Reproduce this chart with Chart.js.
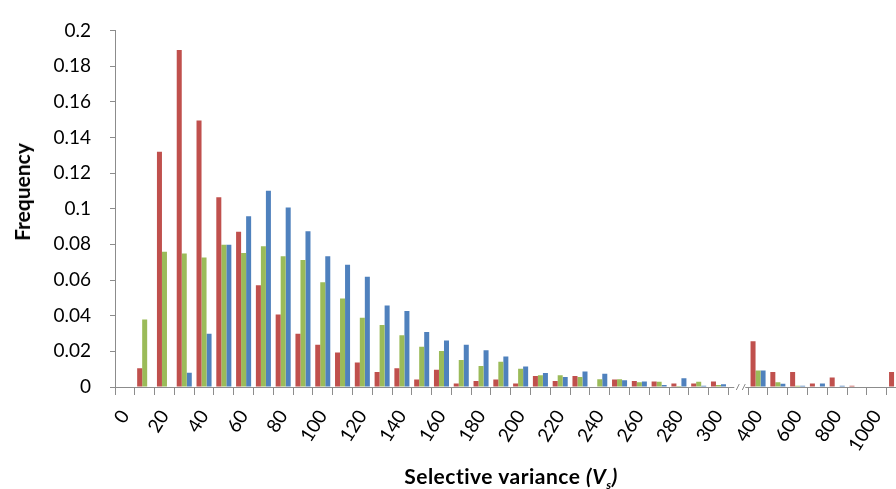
<!DOCTYPE html>
<html>
<head>
<meta charset="utf-8">
<script src="https://cdn.jsdelivr.net/npm/chart.js@4/dist/chart.umd.min.js"></script>
<style>
  html, body { margin: 0; padding: 0; background: #fff; overflow: hidden; }
  #wrap { position: relative; width: 927px; height: 489px; }
  #xtitle { position: absolute; left: 115px; width: 792px; top: 464px; text-align: center;
            font: bold 21px Lato, "Open Sans", sans-serif; letter-spacing: 0.5px; color: #000; line-height: 24px; white-space: nowrap; }
  #xtitle sub { font-size: 12px; vertical-align: -5px; line-height: 0; }
  #ytitle { position: absolute; left: 22px; top: 192px; width: 0; height: 0; }
  #ytitle span { position: absolute; left: 0; top: 0; transform: translate(-50%, -50%) rotate(-90deg);
            font: bold 21px Lato, "Open Sans", sans-serif; color: #000; white-space: nowrap; line-height: 24px; }
</style>
</head>
<body>
<div id="wrap">
  <canvas id="c" width="927" height="489"></canvas>
  <div id="ytitle"><span>Frequency</span></div>
  <div id="xtitle">Selective variance <i>(V<sub>s</sub>)</i></div>
</div>
<script>
// Category bins (selective variance); index 31 is the axis break
const categories = ['0','10','20','30','40','50','60','70','80','90','100','110','120','130','140','150','160','170','180','190','200','210','220','230','240','250','260','270','280','290','300',' ','400','500','600','700','800','900','1000','>1000'];

const redSeries = [0,0.0105,0.132,0.189,0.1495,0.1064,0.0871,0.057,0.0406,0.0299,0.0237,0.0193,0.0138,0.0084,0.0105,0.0042,0.0097,0.002,0.0033,0.0042,0.002,0.0062,0.0033,0.0062,0,0.0042,0.0033,0.0031,0.002,0.002,0.0031,null,0.0257,0.0084,0.0084,0.002,0.0053,0.0007,0,0.0084];
const greenSeries = [0,0.0379,0.0758,0.0749,0.0727,0.0798,0.0752,0.0789,0.0734,0.0712,0.0588,0.0497,0.0388,0.0348,0.029,0.0226,0.0202,0.0151,0.0118,0.0142,0.0102,0.0066,0.0066,0.0056,0.0044,0.0044,0.0027,0.0029,0.0005,0.0029,0.0011,null,0.0093,0.0026,0.0007,0,0,0,0,0];
const blueSeries = [0,0,0,0.008,0.0299,0.0798,0.0958,0.110,0.1007,0.0874,0.0734,0.0685,0.0619,0.0457,0.0426,0.0308,0.0261,0.0237,0.0206,0.0171,0.0115,0.0078,0.0056,0.0087,0.0075,0.0038,0.0031,0.0011,0.0049,0.0007,0.0016,null,0.0093,0.0018,0.0007,0.002,0.0007,0,0,0];

const yTicks = [0,0.02,0.04,0.06,0.08,0.1,0.12,0.14,0.16,0.18,0.2];
const breakIndex = 31;

const axisColor = '#8c8c8c';
const fontFamily = 'Lato, "Open Sans", sans-serif';

const breakPlugin = {
  id: 'axisBreak',
  afterDraw(chart) {
    const xs = chart.scales.x;
    const cx = xs.getPixelForValue(breakIndex);
    const y = chart.chartArea.bottom;
    const ctx = chart.ctx;
    ctx.save();
    ctx.fillStyle = '#fff';
    ctx.fillRect(cx - 4, y - 3, 11, 6);
    ctx.strokeStyle = axisColor;
    ctx.lineWidth = 1;
    ctx.beginPath();
    ctx.moveTo(cx - 2, y + 3); ctx.lineTo(cx + 1, y - 3);
    ctx.moveTo(cx + 4, y + 3); ctx.lineTo(cx + 7, y - 3);
    ctx.stroke();
    ctx.restore();
  }
};

new Chart(document.getElementById('c'), {
  type: 'bar',
  data: {
    labels: categories,
    datasets: [
      { label: 'A', data: redSeries, backgroundColor: '#c0504d' },
      { label: 'B', data: greenSeries, backgroundColor: '#9bbb59' },
      { label: 'C', data: blueSeries, backgroundColor: '#4f81bd' }
    ]
  },
  options: {
    responsive: false,
    animation: false,
    devicePixelRatio: 1,
    layout: { padding: { top: 22, right: 8, bottom: 0, left: 0 } },
    datasets: { bar: { categoryPercentage: 0.76, barPercentage: 1.0 } },
    plugins: { legend: { display: false }, tooltip: { enabled: false } },
    scales: {
      x: {
        grid: { display: true, drawOnChartArea: false, drawTicks: true, tickLength: 8, color: axisColor, offset: true },
        border: { display: true, color: axisColor, width: 1 },
        ticks: {
          autoSkip: false, minRotation: 58, maxRotation: 58, padding: 11,
          color: '#000', font: { family: fontFamily, size: 19 },
          callback: function(v, i) { return i % 2 === 0 ? categories[i] : ''; }
        },
        afterFit(scale) { scale.height = 102; }
      },
      y: {
        min: 0, max: 0.2,
        afterBuildTicks(scale) { scale.ticks = yTicks.map(v => ({ value: v })); },
        grid: { display: true, drawOnChartArea: false, drawTicks: true, tickLength: 5, color: axisColor },
        border: { display: true, color: axisColor, width: 1 },
        ticks: {
          padding: 19, color: '#000', font: { family: fontFamily, size: 19 },
          callback: v => String(+v.toFixed(2))
        },
        afterFit(scale) { scale.width = 115; }
      }
    }
  },
  plugins: [breakPlugin]
});
</script>
</body>
</html>
